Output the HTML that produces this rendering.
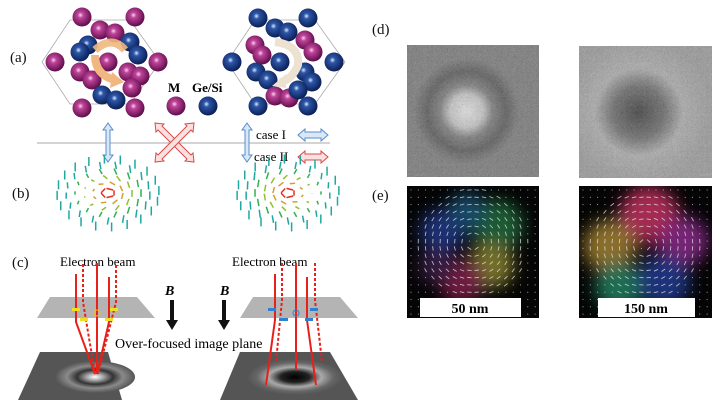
<!DOCTYPE html>
<html><head><meta charset="utf-8"><style>
html,body{margin:0;padding:0;background:#fff;}
svg{display:block;font-family:"Liberation Serif",serif;}
</style></head><body>
<svg id="s" width="720" height="407" viewBox="0 0 720 407" xmlns="http://www.w3.org/2000/svg">
<defs>
<radialGradient id="gm" cx="0.42" cy="0.4" r="0.6"><stop offset="0" stop-color="#f6d6ee"/><stop offset="0.25" stop-color="#c0449a"/><stop offset="1" stop-color="#5e0d4a"/></radialGradient>
<radialGradient id="gb" cx="0.42" cy="0.4" r="0.6"><stop offset="0" stop-color="#d8ecff"/><stop offset="0.25" stop-color="#2d56a8"/><stop offset="1" stop-color="#0b1f55"/></radialGradient>
<radialGradient id="pl" cx="0.5" cy="0.5" r="0.5"><stop offset="0" stop-color="#fff"/><stop offset="0.2" stop-color="#aaa"/><stop offset="0.45" stop-color="#333"/><stop offset="0.7" stop-color="#8a8a8a"/><stop offset="1" stop-color="#555"/></radialGradient>
<radialGradient id="pr" cx="0.5" cy="0.5" r="0.5"><stop offset="0" stop-color="#000"/><stop offset="0.3" stop-color="#222"/><stop offset="0.55" stop-color="#aaa"/><stop offset="0.8" stop-color="#666"/><stop offset="1" stop-color="#555"/></radialGradient>
<radialGradient id="d1" cx="0.45" cy="0.5" r="0.5"><stop offset="0" stop-color="#eeeeee"/><stop offset="0.25" stop-color="#d0d0d0"/><stop offset="0.4" stop-color="#8a8a8a"/><stop offset="0.6" stop-color="#6a6a6a"/><stop offset="0.8" stop-color="#8a8a8a"/><stop offset="1" stop-color="#8a8a8a"/></radialGradient>
<radialGradient id="d2" cx="0.45" cy="0.5" r="0.55"><stop offset="0" stop-color="#505050"/><stop offset="0.35" stop-color="#7a7a7a"/><stop offset="0.6" stop-color="#b8b8b8"/><stop offset="1" stop-color="#a8a8a8"/></radialGradient>
<filter id="nz" x="0" y="0" width="1" height="1"><feTurbulence baseFrequency="0.9" numOctaves="1" seed="3"/><feColorMatrix type="saturate" values="0"/><feComponentTransfer><feFuncA type="linear" slope="0" intercept="0.18"/></feComponentTransfer><feComposite in2="SourceGraphic" operator="in"/></filter>
<filter id="bl"><feGaussianBlur stdDeviation="8"/></filter>
</defs>
<rect width="720" height="407" fill="#fff"/>
<g font-size="15" fill="#111">
<text x="10" y="62">(a)</text><text x="12" y="198">(b)</text><text x="12" y="267">(c)</text>
<text x="372" y="34">(d)</text><text x="372" y="200">(e)</text>
</g>
<polygon points="70,20 130,20 160,62 130,104 70,104 42,62" fill="none" stroke="#aaa" stroke-width="0.8"/>
<polygon points="255,20 315,20 345,62 315,104 255,104 227,62" fill="none" stroke="#aaa" stroke-width="0.8"/>
<g id="atoms"></g>
<g id="arr">
<path d="M95,50 Q112,35 125,50" fill="none" stroke="#f0b880" stroke-width="8" opacity="0.9"/>
<path d="M95,55 Q95,75 115,80" fill="none" stroke="#f0b880" stroke-width="8"/>
<path d="M112,72 L124,82 L110,88 Z" fill="#f0b880"/>
<path d="M275,42 Q300,45 298,65 Q292,80 280,82" fill="none" stroke="#ede2d2" stroke-width="8"/>
<path d="M286,74 L272,86 L286,88 Z" fill="#ede2d2"/>
</g>
<text x="168" y="92" font-size="13" font-weight="bold">M</text>
<text x="192" y="92" font-size="13" font-weight="bold">Ge/Si</text>
<circle cx="176" cy="106" r="9.5" fill="url(#gm)"/><circle cx="208" cy="106" r="9.5" fill="url(#gb)"/>
<line x1="37" y1="143" x2="330" y2="143" stroke="#aaa" stroke-width="1"/>
<g fill="#d8e8f8" stroke="#5b8cc8" stroke-width="1">
<path d="M108,123 L113,130 L110,130 L110,155 L113,155 L108,162 L103,155 L106,155 L106,130 L103,130 Z"/>
<path d="M247,123 L252,130 L249,130 L249,155 L252,155 L247,162 L242,155 L245,155 L245,130 L242,130 Z"/>
<path d="M298,135 L305,129 L305,132 L321,132 L321,129 L328,135 L321,141 L321,138 L305,138 L305,141 Z"/>
</g>
<g fill="#fbe0e0" stroke="#d84a4a" stroke-width="1">
<path d="M298,157 L305,151 L305,154 L321,154 L321,151 L328,157 L321,163 L321,160 L305,160 L305,163 Z"/>
<path d="M155,123 L164,124 L162,126 L191,155 L193,153 L194,162 L185,161 L187,159 L158,130 L156,132 Z"/>
<path d="M194,123 L193,132 L191,130 L162,159 L164,161 L155,162 L156,153 L158,155 L187,126 L185,124 Z"/>
</g>
<text x="256" y="139" font-size="13">case I</text>
<text x="254" y="161" font-size="13">case II</text>
<g id="vort"></g>
<text x="60" y="266" font-size="13">Electron beam</text>
<text x="232" y="266" font-size="13">Electron beam</text>
<text x="165" y="295" font-size="14" font-weight="bold" font-style="italic">B</text>
<text x="220" y="295" font-size="14" font-weight="bold" font-style="italic">B</text>
<path d="M170,300 L174,300 L174,320 L178,320 L172,330 L166,320 L170,320 Z" fill="#111"/>
<path d="M222,300 L226,300 L226,320 L230,320 L224,330 L218,320 L222,320 Z" fill="#111"/>
<polygon points="37,318 50,297 137,297 155,318" fill="#b4b4b4"/>
<polygon points="240,318 253,297 340,297 358,318" fill="#b4b4b4"/>
<polygon points="18,400 40,352 108,352 122,400" fill="#555"/>
<polygon points="220,400 240,352 330,352 358,400" fill="#555"/>
<ellipse cx="95" cy="377" rx="40" ry="16" fill="url(#pl)"/>
<ellipse cx="295" cy="377" rx="48" ry="18" fill="url(#pr)"/>
<text x="115" y="348" font-size="14">Over-focused image plane</text>
<g stroke="#e8201a" stroke-width="2" fill="none">
<path d="M76,274 L76,322 L95,374"/><path d="M83,264 L83,302 L95,374" stroke-dasharray="3,2"/><path d="M97,263 L97,374"/><path d="M109,277 L109,322 L97,374"/><path d="M116,265 L116,302 L98,374" stroke-dasharray="3,2"/>
<path d="M275,274 L275,320 L266,385"/><path d="M282,263 L282,300 L276,362" stroke-dasharray="3,2"/><path d="M296,263 L296,370"/><path d="M307,277 L307,320 L316,385"/><path d="M315,263 L315,300 L322,362" stroke-dasharray="3,2"/>
</g>
<g fill="#f0e020"><circle cx="97" cy="313" r="3" fill="none" stroke="#f0c020"/><rect x="72" y="308" width="8" height="3"/><rect x="110" y="308" width="8" height="3"/><rect x="80" y="318" width="8" height="3"/><rect x="105" y="318" width="8" height="3"/></g>
<g fill="#3080d0"><circle cx="296" cy="313" r="3" fill="none" stroke="#3080d0"/><rect x="268" y="308" width="8" height="3"/><rect x="310" y="308" width="8" height="3"/><rect x="280" y="318" width="8" height="3"/><rect x="305" y="318" width="8" height="3"/></g>
<rect x="407" y="45" width="132" height="132" fill="#8f8f8f"/>
<rect x="407" y="45" width="132" height="132" fill="url(#d1)"/>
<rect x="407" y="45" width="132" height="132" fill="#000" filter="url(#nz)"/>
<rect x="579" y="46" width="133" height="132" fill="#adadad"/>
<rect x="579" y="46" width="133" height="132" fill="url(#d2)"/>
<rect x="579" y="46" width="133" height="132" fill="#000" filter="url(#nz)"/>
<rect x="407" y="186" width="132" height="132" fill="#050505"/>
<rect x="579" y="186" width="133" height="132" fill="#050505"/>
<svg x="407" y="186" width="132" height="132" overflow="hidden"><g filter="url(#bl)" opacity="0.8">
<circle cx="35" cy="45" r="22" fill="#203a90"/><circle cx="90" cy="40" r="26" fill="#207040"/><circle cx="60" cy="25" r="18" fill="#1d5a80"/><circle cx="85" cy="80" r="22" fill="#908a30"/><circle cx="55" cy="95" r="22" fill="#8a2050"/><circle cx="30" cy="80" r="18" fill="#402050"/><circle cx="66" cy="57" r="8" fill="#000"/></g></svg>
<svg x="579" y="186" width="133" height="132" overflow="hidden"><g filter="url(#bl)" opacity="0.85">
<circle cx="70" cy="30" r="30" fill="#c03060"/><circle cx="105" cy="55" r="24" fill="#8a2a8a"/><circle cx="30" cy="60" r="26" fill="#a08030"/><circle cx="40" cy="100" r="24" fill="#208060"/><circle cx="85" cy="95" r="26" fill="#203a90"/><circle cx="66" cy="59" r="9" fill="#000"/></g></svg>
<g id="qv"></g>
<rect x="420" y="298" width="101" height="19" fill="#fff"/>
<rect x="598" y="298" width="97" height="19" fill="#fff"/>
<text x="470" y="313" font-size="14" font-weight="bold" text-anchor="middle">50 nm</text>
<text x="646" y="313" font-size="14" font-weight="bold" text-anchor="middle">150 nm</text>
</svg>
<script>
var NS="http://www.w3.org/2000/svg";
function el(p,t,a){var e=document.createElementNS(NS,t);for(var k in a)e.setAttribute(k,a[k]);p.appendChild(e);return e;}
var A=document.getElementById("atoms");
var L=[["m",82,17],["m",135,17],["m",55,62],["m",158,62],["m",82,108],["m",135,108],
["m",100,30],["m",115,33],["b",88,45],["b",80,52],["b",130,42],["b",138,55],["m",108,62],["m",80,72],["m",92,80],["m",128,72],["m",140,76],["b",102,95],["b",116,100],["m",132,88]];
L.forEach(function(a){el(A,"circle",{cx:a[1],cy:a[2],r:9.5,fill:a[0]=="m"?"url(#gm)":"url(#gb)"});});
var R=[["b",258,18],["b",308,18],["b",232,62],["b",334,62],["b",258,106],["b",308,106],
["b",275,28],["b",288,32],["m",255,45],["m",262,55],["m",305,40],["m",313,52],["b",280,62],["b",256,72],["b",268,80],["b",305,72],["b",312,82],["m",275,96],["m",289,98],["b",298,90]];
R.forEach(function(a){el(A,"circle",{cx:a[1],cy:a[2],r:9.5,fill:a[0]=="m"?"url(#gm)":"url(#gb)"});});
var V=document.getElementById("vort");
[[108,193,1],[288,193,-1]].forEach(function(c){
 for(var ri=0;ri<6;ri++){var rx=6+ri*9,ry=4+ri*6,n=5+ri*3;
  for(var i=0;i<n;i++){var t=i/n*2*Math.PI+ri*0.3,x=c[0]+rx*Math.cos(t),y=c[1]+ry*Math.sin(t);
   var tilt=ri/5;var dx=-Math.sin(t)*c[2]*(1-tilt),dy=Math.cos(t)*c[2]*(1-tilt)*0.6+tilt;
   var col=ri<1?"#e03020":ri<2?"#d0a030":ri<3?"#90c030":ri<4?"#30b050":"#20a8a0";
   el(V,"line",{x1:x-dx*3.5,y1:y-dy*4.5,x2:x+dx*3.5,y2:y+dy*4.5,stroke:col,"stroke-width":1.5});}}
});
var Q=document.getElementById("qv");
[[407,186,132,473,243,1],[579,186,133,645,245,-1]].forEach(function(b){
 for(var i=0;i<18;i++)for(var j=0;j<18;j++){var x=b[0]+4+i*7.3,y=b[1]+4+j*7.3;
  var dx=x-b[3],dy=y-b[4],r=Math.sqrt(dx*dx+dy*dy);var s=r<55&&r>5?2.2:0.5;
  var ux=-dy/(r||1)*b[5]*s,uy=dx/(r||1)*b[5]*s;
  el(Q,"line",{x1:x-ux,y1:y-uy,x2:x+ux,y2:y+uy,stroke:"#ddd","stroke-width":0.9,opacity:0.8});}
});
</script>
</body></html>
